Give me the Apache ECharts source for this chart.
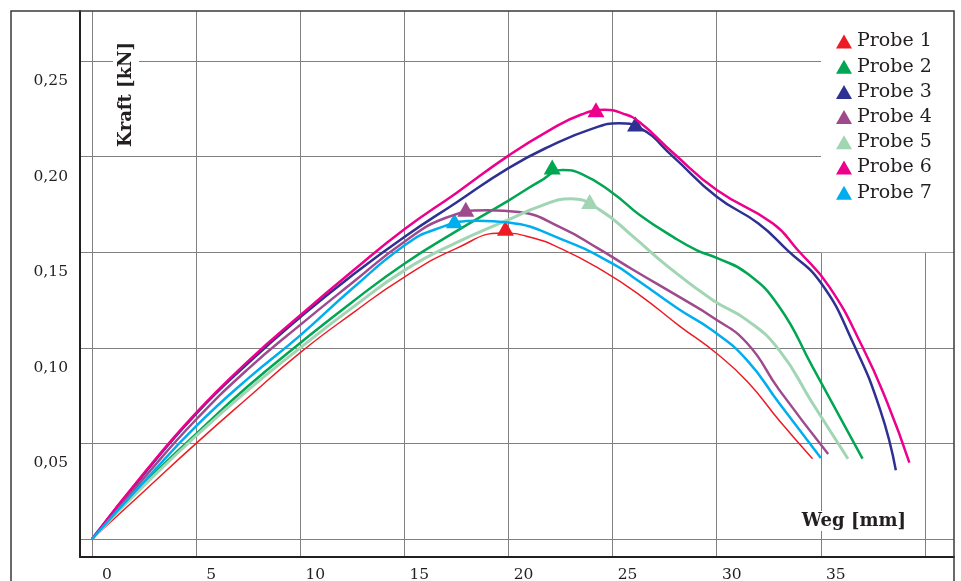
<!DOCTYPE html>
<html>
<head>
<meta charset="utf-8">
<script src="https://cdn.jsdelivr.net/npm/echarts@6/dist/echarts.min.js"></script>
<style>
html,body{margin:0;padding:0;background:#fff;}
#chart{width:961px;height:581px;}
</style>
</head>
<body>
<div id="chart"></div>
<script>
// ---- Data (Weg [mm], Kraft [kN]) ----
const seriesNames = ['Probe 1','Probe 2','Probe 3','Probe 4','Probe 5','Probe 6','Probe 7'];
const seriesColors = ['#ED1C24','#00A651','#2E3192','#9E4A8D','#A2D5B4','#EC008C','#00AEEF'];

const probe1 = [[0,0],[2.5,0.025],[5,0.050],[7.5,0.074],[10,0.0975],[12.5,0.118],[15,0.137],[17.5,0.152],[19.7,0.160],[21,0.158],[22.5,0.152],[24.5,0.1405],[26.3,0.1276],[28.2,0.1115],[30,0.097],[31.5,0.082],[33,0.062],[34.6,0.042]];
const probe2 = [[0,0],[2.5,0.029],[5,0.055],[7.5,0.080],[10,0.1025],[12.5,0.124],[15,0.144],[17.5,0.161],[20,0.177],[21.5,0.187],[22.6,0.193],[23.5,0.191],[25,0.181],[26.3,0.1695],[27.9,0.158],[29.05,0.151],[30,0.147],[31.45,0.139],[33,0.1215],[34.6,0.090],[37,0.042]];
const probe3 = [[0,0],[2.5,0.034],[5,0.0655],[7.5,0.092],[10,0.116],[12.5,0.138],[15,0.158],[17.5,0.176],[20,0.194],[22,0.2055],[24,0.2145],[25.3,0.2175],[26.3,0.215],[27.9,0.200],[30,0.179],[32,0.165],[33.4,0.151],[35,0.134],[36.55,0.1025],[37.85,0.0675],[38.6,0.036]];
const probe4 = [[0,0],[2.5,0.032],[5,0.0625],[7.5,0.089],[10,0.112],[12.5,0.134],[15,0.1555],[17,0.168],[19,0.172],[20.5,0.171],[22.5,0.163],[24.3,0.152],[26,0.1407],[28.2,0.1266],[29.8,0.116],[31.45,0.1025],[33,0.078],[35.35,0.0445]];
const probe5 = [[0,0],[2.5,0.028],[5,0.054],[7.5,0.078],[10,0.100],[12.5,0.121],[15,0.1405],[17.5,0.155],[20,0.167],[21.5,0.174],[23,0.178],[24.4,0.172],[26,0.158],[27.6,0.143],[29.8,0.125],[31.45,0.1145],[33,0.0988],[34.6,0.071],[36.3,0.042]];
const probe6 = [[0,0],[2.5,0.0345],[5,0.066],[7.5,0.093],[10,0.117],[12.5,0.140],[15,0.162],[17.5,0.181],[20,0.2005],[22,0.214],[23.5,0.222],[24.6,0.2245],[25.5,0.2225],[26.3,0.218],[27.9,0.202],[30,0.1825],[32.7,0.165],[33.9,0.151],[35.4,0.132],[37,0.1004],[38.2,0.071],[39.25,0.040]];
const probe7 = [[0,0],[2.5,0.030],[5,0.059],[7.5,0.084],[10,0.1065],[12.5,0.131],[15,0.1535],[16.5,0.162],[18.5,0.1665],[20,0.1655],[22.5,0.157],[25,0.144],[26.3,0.1345],[28.2,0.120],[29.8,0.109],[31.45,0.0936],[33,0.071],[35,0.0424]];

// peak markers (triangles)
const peakWeg   = [19.85, 22.1, 26.1, 17.95, 23.9, 24.2, 17.4];
const peakKraft = [0.1625, 0.1945, 0.217, 0.1725, 0.1765, 0.2245, 0.1665];

// axis ticks
const xTicks = [0,5,10,15,20,25,30,35,40];
const xTickLabels = [0,5,10,15,20,25,30,35];
const yTicks = [0,0.05,0.10,0.15,0.20,0.25];
const yTickLabels = [0.05,0.10,0.15,0.20,0.25];

const allData = [probe1,probe2,probe3,probe4,probe5,probe6,probe7];
const lineWidths = [1.5,2.5,2.5,2.5,3,2.5,2.5];

const FONT = 'DejaVu Serif';
const TXT = '#231F20';

const series = seriesNames.map((name, i) => ({
  name: name,
  type: 'line',
  data: allData[i],
  smooth: 0.5,
  showSymbol: false,
  symbol: 'triangle',
  lineStyle: { color: seriesColors[i], width: lineWidths[i] },
  itemStyle: { color: seriesColors[i] },
  markPoint: {
    symbol: 'triangle',
    symbolSize: [17, 15],
    label: { show: false },
    itemStyle: { color: seriesColors[i] },
    data: [{ coord: [peakWeg[i], peakKraft[i]] }]
  },
  z: 3 + i
}));

const chart = echarts.init(document.getElementById('chart'), null, { renderer: 'canvas' });
chart.setOption({
  animation: false,
  backgroundColor: '#fff',
  grid: { left: 80, top: 11, right: 7, bottom: 24, outerBoundsMode: 'none', containLabel: false },
  xAxis: {
    type: 'value',
    min: -0.576, max: 41.393,
    axisLine: { show: true, onZero: false, lineStyle: { color: TXT, width: 2 } },
    axisTick: { show: false, customValues: xTicks },
    axisLabel: {
      customValues: xTickLabels,
      color: TXT, fontFamily: FONT, fontSize: 15.5, margin: 10,
      padding: [0, 0, 0, 30]
    },
    splitLine: { show: true, lineStyle: { color: '#808080', width: 1 } },
    name: '{a|Weg [mm]}',
    nameLocation: 'end',
    nameGap: -46,
    nameTextStyle: {
      align: 'right', verticalAlign: 'middle',
      padding: [0, 0, 72, 0],
      rich: { a: { fontFamily: FONT, fontWeight: 'bold', fontSize: 18, color: TXT, backgroundColor: '#fff', padding: [1, 2, 1, 2] } }
    }
  },
  yAxis: {
    type: 'value',
    min: -0.00941, max: 0.27615,
    axisLine: { show: true, onZero: false, lineStyle: { color: TXT, width: 2 } },
    axisTick: { show: false, customValues: yTicks },
    axisLabel: {
      customValues: yTickLabels,
      formatter: v => '\n' + v.toFixed(2).replace('.', ','),
      color: TXT, fontFamily: FONT, fontSize: 15.5, margin: 12,
      lineHeight: 40, verticalAlign: 'middle'
    },
    splitLine: { show: true, lineStyle: { color: '#808080', width: 1 } },
    name: '{a|Kraft [kN]}',
    nameLocation: 'end',
    nameRotate: 90,
    nameGap: -138,
    nameTextStyle: {
      align: 'left', verticalAlign: 'top',
      padding: [33, 0, 0, 0],
      rich: { a: { fontFamily: FONT, fontWeight: 'bold', fontSize: 18, color: TXT, backgroundColor: '#fff', padding: [4, 2, 4, 2] } }
    }
  },
  legend: {
    orient: 'vertical',
    left: 821, top: 11,
    padding: [21, 22, 50, 15],
    backgroundColor: '#fff',
    itemWidth: 16, itemHeight: 14, itemGap: 6.2,
    icon: 'triangle',
    textStyle: { fontFamily: FONT, fontSize: 19, color: TXT },
    data: seriesNames,
    z: 20
  },
  graphic: [{
    type: 'rect',
    shape: { x: 11, y: 11, width: 943, height: 600 },
    style: { fill: 'none', stroke: '#3a3a3a', lineWidth: 1.5 },
    silent: true, z: 100
  }],
  series: series
});
</script>
</body>
</html>
